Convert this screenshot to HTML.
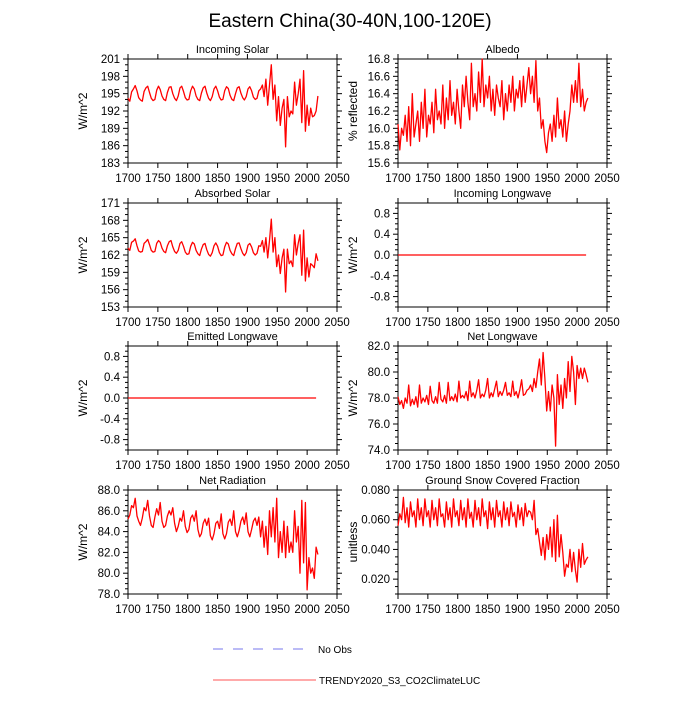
<!DOCTYPE html>
<html><head><meta charset="utf-8"><style>
body{margin:0;background:#fff;}
svg{font-family:"Liberation Sans",sans-serif;}
</style></head><body>
<svg id="fig" width="700" height="700" viewBox="0 0 700 700">
<text x="350" y="27" font-size="19" text-anchor="middle">Eastern China(30-40N,100-120E)</text>
<g id="panels"></g>
<g>
<line x1="213" y1="649" x2="310" y2="649" stroke="#7777ee" stroke-width="1" stroke-dasharray="10,10"/>
<text x="318" y="653" font-size="10">No Obs</text>
<line x1="213" y1="680" x2="316" y2="680" stroke="#ff5555" stroke-width="1"/>
<text x="319" y="684" font-size="10">TRENDY2020_S3_CO2ClimateLUC</text>
</g>
</svg>
<script>
const startYear = 1700;
const yearStep = 3;
const xTicks = [1700,1750,1800,1850,1900,1950,2000,2050];

const incomingSolar = [194.2,193.7,195.3,195.8,196.4,195.5,194.3,193.9,193.7,195.4,196.0,196.3,195.2,194.2,193.8,194.0,195.6,196.3,195.7,194.6,194.0,193.8,195.2,196.1,196.2,195.0,194.2,193.8,194.6,196.0,196.3,195.4,194.3,193.9,194.0,195.5,196.3,195.8,194.6,194.0,193.8,195.1,196.0,196.3,195.1,194.2,193.8,194.5,195.8,196.3,195.5,194.4,193.9,194.0,195.5,196.2,195.9,194.7,194.0,193.8,195.0,196.0,196.2,195.1,194.3,193.9,194.5,195.8,196.2,195.5,194.4,194.0,194.2,195.5,
195.8,196.5,194.5,197.5,193.0,196.5,200.0,194.0,196.5,190.3,194.5,189.5,192.5,194.0,185.8,194.5,191.0,192.0,191.5,197.0,193.0,195.0,197.5,190.0,199.0,188.5,193.0,189.5,192.5,191.0,191.2,192.0,194.6];

const absorbedSolar = [163.2,162.8,164.2,164.4,164.8,163.6,162.7,162.5,162.6,164.0,164.3,164.7,163.8,162.8,162.5,162.6,164.0,164.5,164.2,163.2,162.6,162.4,163.6,164.3,164.5,163.4,162.6,162.3,162.8,164.0,164.3,163.5,162.5,162.1,162.2,163.5,164.2,163.9,162.8,162.2,161.9,163.0,163.8,164.0,162.9,162.1,161.8,162.4,163.6,164.1,163.5,162.4,161.9,162.0,163.4,164.2,163.9,162.8,162.2,161.9,163.1,164.0,164.1,163.1,162.3,161.9,162.4,163.7,164.0,163.4,162.4,162.0,162.3,163.6,
163.5,164.5,162.5,165.0,161.5,164.5,168.2,162.5,165.0,160.0,162.0,158.8,161.5,163.0,155.6,163.0,160.5,161.0,160.0,165.5,162.0,164.0,165.5,158.5,166.3,157.5,161.5,158.2,160.5,160.2,159.8,162.2,161.0];

const incomingLW = new Array(106).fill(0);
const emittedLW = new Array(106).fill(0);

const netRadiation = [85.2,85.6,86.5,86.3,87.2,85.5,85.0,84.6,85.3,86.3,86.0,87.0,85.5,84.6,84.4,85.4,86.2,85.6,86.8,85.0,84.4,84.6,85.5,86.0,85.6,86.3,84.8,84.0,84.5,85.3,85.0,86.0,84.5,83.9,84.2,85.3,85.6,85.0,86.0,84.2,83.5,83.8,84.8,85.2,84.6,85.3,83.6,83.2,83.8,84.8,85.0,84.3,85.7,83.8,83.3,83.8,84.9,85.2,84.6,86.0,84.0,83.5,84.1,85.0,85.4,84.7,85.8,84.0,83.5,84.2,85.0,85.3,84.6,85.4,
83.5,85.0,82.5,84.5,81.8,86.0,83.5,86.3,83.0,87.2,81.5,84.0,82.0,85.0,81.5,84.5,82.0,83.0,82.0,86.0,83.0,84.5,80.0,87.0,81.0,86.8,78.4,81.5,80.0,80.5,79.5,82.5,81.8];

const netLongwave = [78.1,77.5,77.8,77.2,78.0,77.6,79.0,77.4,77.9,77.5,78.1,77.3,79.0,77.6,78.0,77.7,78.2,77.5,78.9,77.8,77.6,78.1,77.6,79.2,77.9,77.7,78.2,77.6,79.2,77.8,78.1,77.8,78.3,77.7,79.3,78.0,78.2,78.0,78.5,77.8,79.3,78.1,78.4,78.0,78.6,79.4,78.0,78.3,78.1,78.6,79.5,78.0,78.4,78.1,78.7,79.3,78.1,78.5,78.2,78.6,79.2,78.2,78.4,78.1,79.3,78.2,78.5,78.0,78.6,79.4,78.2,78.3,78.6,78.7,
79.0,78.5,79.5,78.8,80.0,81.0,79.0,81.5,79.5,77.0,78.5,77.0,79.0,78.0,74.3,79.8,77.5,79.0,77.2,79.5,78.0,80.8,78.5,81.2,80.0,77.5,80.5,79.5,80.3,79.5,80.3,79.8,79.2];

const albedo = [16.05,15.75,16.0,15.92,16.15,15.85,16.25,15.8,16.4,15.9,16.05,16.2,15.85,16.3,16.0,16.45,15.9,16.15,16.05,16.3,15.95,16.45,16.1,16.2,16.05,16.5,16.0,16.35,16.1,16.55,16.15,16.3,16.05,16.45,16.2,16.0,16.5,16.25,16.6,16.3,16.1,16.75,16.25,16.4,16.2,16.65,16.3,16.8,16.25,16.5,16.35,16.6,16.2,16.45,16.15,16.5,16.35,16.25,16.55,16.1,16.4,16.2,16.5,16.3,16.6,16.2,16.45,16.35,16.55,16.25,16.6,16.3,16.5,16.7,
16.4,16.6,16.3,16.78,16.2,16.35,16.0,16.1,15.85,15.72,15.95,16.05,15.85,16.15,15.9,16.35,16.0,16.1,15.9,16.2,15.85,16.05,16.2,16.5,16.3,16.55,16.3,16.75,16.25,16.45,16.2,16.3,16.35];

const snowFraction = [0.056,0.064,0.060,0.075,0.058,0.068,0.055,0.072,0.062,0.066,0.055,0.074,0.060,0.068,0.056,0.074,0.062,0.066,0.055,0.073,0.060,0.068,0.056,0.074,0.062,0.064,0.055,0.072,0.060,0.068,0.055,0.074,0.062,0.066,0.056,0.073,0.060,0.068,0.055,0.074,0.061,0.065,0.055,0.073,0.060,0.068,0.056,0.074,0.062,0.066,0.054,0.072,0.060,0.068,0.055,0.073,0.062,0.066,0.055,0.072,0.060,0.068,0.056,0.072,0.062,0.065,0.055,0.070,0.060,0.068,0.056,0.071,0.062,0.066,
0.065,0.060,0.073,0.050,0.054,0.045,0.036,0.048,0.033,0.050,0.040,0.055,0.035,0.060,0.032,0.063,0.035,0.050,0.038,0.022,0.030,0.028,0.040,0.025,0.038,0.026,0.018,0.040,0.028,0.044,0.030,0.033,0.035];

const panels = [
 {name:'incoming-solar', title:'Incoming Solar', yt:'W/m^2', data:incomingSolar, x:128, y:59, ymin:183, ymax:201, ticks:[183,186,189,192,195,198,201], dec:0, minor:1},
 {name:'albedo', title:'Albedo', yt:'% reflected', data:albedo, x:398, y:59, ymin:15.6, ymax:16.8, ticks:[15.6,15.8,16.0,16.2,16.4,16.6,16.8], dec:1, minor:0.05},
 {name:'absorbed-solar', title:'Absorbed Solar', yt:'W/m^2', data:absorbedSolar, x:128, y:203, ymin:153, ymax:171, ticks:[153,156,159,162,165,168,171], dec:0, minor:1},
 {name:'incoming-longwave', title:'Incoming Longwave', yt:'W/m^2', data:incomingLW, x:398, y:203, ymin:-1, ymax:1, ticks:[-0.8,-0.4,0,0.4,0.8], dec:1, minor:0.1},
 {name:'emitted-longwave', title:'Emitted Longwave', yt:'W/m^2', data:emittedLW, x:128, y:346, ymin:-1, ymax:1, ticks:[-0.8,-0.4,0,0.4,0.8], dec:1, minor:0.1},
 {name:'net-longwave', title:'Net Longwave', yt:'W/m^2', data:netLongwave, x:398, y:346, ymin:74, ymax:82, ticks:[74,76,78,80,82], dec:1, minor:0.5},
 {name:'net-radiation', title:'Net Radiation', yt:'W/m^2', data:netRadiation, x:128, y:490, ymin:78, ymax:88, ticks:[78,80,82,84,86,88], dec:1, minor:0.5},
 {name:'snow-fraction', title:'Ground Snow Covered Fraction', yt:'unitless', data:snowFraction, x:398, y:490, ymin:0.01, ymax:0.08, ticks:[0.02,0.04,0.06,0.08], dec:3, minor:0.005}
];
const W = 209, H = 104;
const NS = 'http://www.w3.org/2000/svg';
function mk(tag, attrs, parent){ const e=document.createElementNS(NS,tag); for(const k in attrs) e.setAttribute(k,attrs[k]); parent.appendChild(e); return e; }
const root = document.getElementById('panels');
panels.forEach(p=>{
  const g = mk('g',{},root);
  
  
  const sx = yr => p.x + (yr-1700)/(2050-1700)*W;
  const sy = v => p.y + H - (v-p.ymin)/(p.ymax-p.ymin)*H;
  const fr = mk('rect',{x:p.x,y:p.y,width:W,height:H,fill:'none',stroke:'#000','stroke-width':1},g);
  
  
  xTicks.forEach(yr=>{
    const X=sx(yr);
    mk('line',{x1:X,y1:p.y+H,x2:X,y2:p.y+H+5,stroke:'#000','stroke-width':1},g);
    mk('line',{x1:X,y1:p.y,x2:X,y2:p.y-5,stroke:'#000','stroke-width':1},g);
    const t = mk('text',{x:X,y:p.y+H+19,'font-size':11.5,'text-anchor':'middle'},g);
    t.textContent = yr;
    
    
  });
  const nm = Math.round((p.ymax-p.ymin)/p.minor);
  for(let i=0;i<=nm;i++){
    const v = p.ymin + i*p.minor; const Y=sy(v);
    const major = p.ticks.some(t=>Math.abs(t-v)<p.minor/10); const L = major?5:3;
    mk('line',{x1:p.x,y1:Y,x2:p.x-L,y2:Y,stroke:'#000','stroke-width':1},g);
    mk('line',{x1:p.x+W,y1:Y,x2:p.x+W+L,y2:Y,stroke:'#000','stroke-width':1},g);
  }
  p.ticks.forEach(v=>{
    const t = mk('text',{x:p.x-8,y:sy(v)+4,'font-size':11.5,'text-anchor':'end'},g);
    t.textContent = v.toFixed(p.dec);
    
    
  });
  const tt = mk('text',{x:p.x+W/2,y:p.y-6,'font-size':11,'text-anchor':'middle'},g);
  tt.textContent = p.title;
  
  
  const yx = p.x-41, yy = p.y+H/2;
  const yt = mk('text',{x:yx,y:yy,'font-size':12,'text-anchor':'middle',transform:`rotate(-90 ${yx} ${yy})`},g);
  yt.textContent = p.yt;
  
  
  const pts = p.data.map((v,i)=>sx(startYear+i*yearStep).toFixed(1)+','+sy(v).toFixed(1)).join(' ');
  const pl = mk('polyline',{points:pts,fill:'none',stroke:'#ff0000','stroke-width':1.3,'stroke-linejoin':'round'},g);
  
  
});
</script>
</body></html>
